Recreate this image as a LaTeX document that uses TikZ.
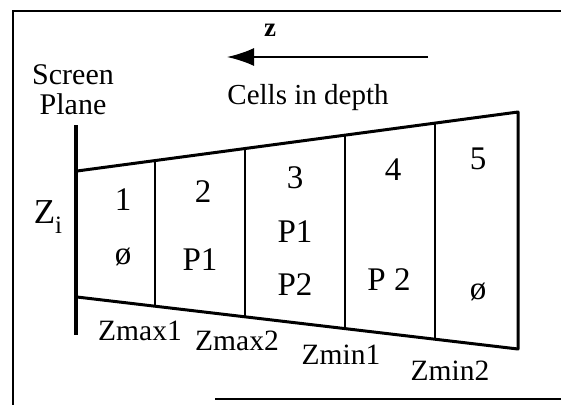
\documentclass[tikz,border=0pt]{standalone}
\usepackage{fontspec}
\setmainfont{Liberation Serif}
\usepackage{tikz}
\usetikzlibrary{arrows.meta,calc}

\begin{document}
\begin{tikzpicture}[x=1pt,y=-1pt,every node/.style={inner sep=0pt,align=center},lbl/.style={font=\fontsize{29.5}{30}\selectfont},cell/.style={font=\fontsize{33}{33}\selectfont},edge/.style={line width=3pt,line cap=round,line join=round},divider/.style={line width=2.4pt}]
\useasboundingbox (0,0) rectangle (561,405);
% frame round the figure
\draw[line width=2pt] (561,11) -- (13,11) -- (13,405);
\draw[line width=2pt] (215,399) -- (561,399);
% depth direction
\coordinate (ztail) at (428,57);
\coordinate (ztip) at (227,57);
\draw[line width=2pt,-{Latex[length=27pt,width=18pt]}] (ztail) -- (ztip);
\node[font=\fontsize{27}{27}\selectfont\bfseries] (zlab) at (270,30) {z};
\node[lbl,font=\fontsize{29}{30}\selectfont] (cells) at (308,98) {Cells in depth};
\node[lbl,font=\fontsize{30}{30}\selectfont] (screen) at (73,90) {Screen\\ Plane};
% screen plane and the cells
\coordinate (ptop) at (76,125);
\coordinate (pbot) at (76,335);
\draw[line width=4pt] (ptop) -- (pbot);
\coordinate (tl) at (77,171);
\coordinate (tr) at (518,112);
\coordinate (bl) at (77,297);
\coordinate (br) at (518,349);
\draw[edge] (tl) -- (tr) -- (br) -- (bl);
\foreach \t in {0.177,0.381,0.608,0.812}
  \draw[divider] ($(tl)!\t!(tr)$) -- ($(bl)!\t!(br)$);
\node[cell,font=\fontsize{35}{35}\selectfont] (zi) at (48,217) {Z\raisebox{-0.3em}{\fontsize{25}{25}\selectfont i}};
\node[cell] (n1) at (123,200) {1};
\node[cell] (n2) at (203,192) {2};
\node[cell] (n3) at (295,178) {3};
\node[cell] (n4) at (393,170) {4};
\node[cell] (n5) at (478,159) {5};
\node[cell] (e1) at (123,257) {ø};
\node[cell] (p1a) at (200,260) {P1};
\node[cell] (p1b) at (295,232) {P1};
\node[cell] (p2a) at (295,285) {P2};
\node[cell] (p2b) at (389,280) {P 2};
\node[cell] (e5) at (478,292) {ø};
% depth bounds
\node[lbl] (zmax1) at (140,331) {Zmax1};
\node[lbl] (zmax2) at (237,341) {Zmax2};
\node[lbl] (zmin1) at (341,355) {Zmin1};
\node[lbl] (zmin2) at (450,371) {Zmin2};
\end{tikzpicture}
\end{document}
